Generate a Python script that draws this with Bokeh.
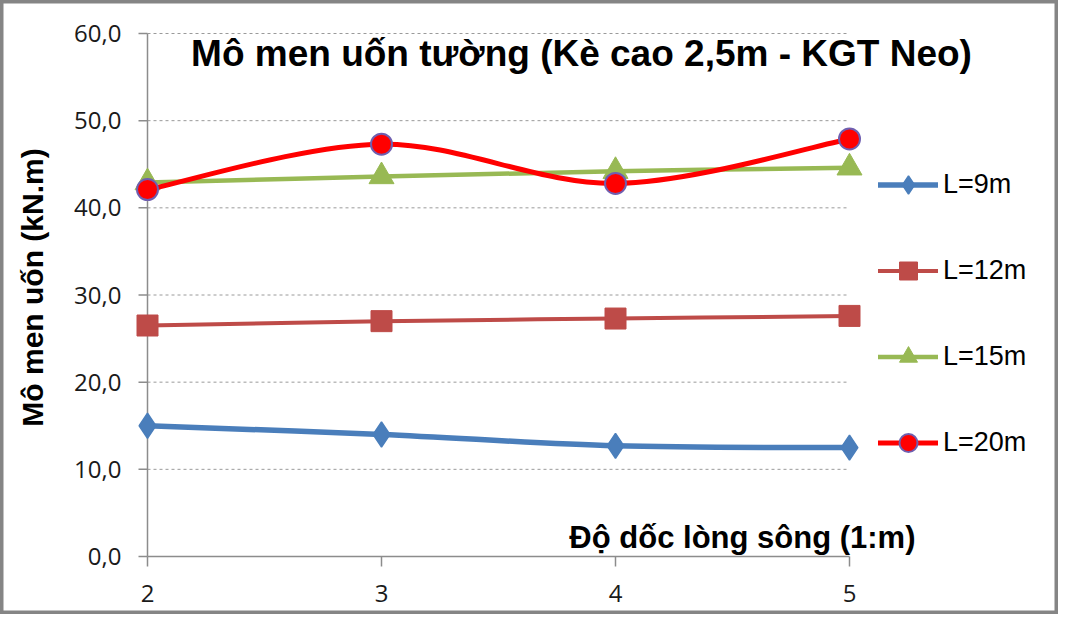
import math
from bokeh.plotting import figure
from bokeh.models import Range1d, Label, Legend, LegendItem, ColumnDataSource
from bokeh.core.properties import value
from bokeh.embed import file_html
from bokeh.resources import INLINE

# ---------------- data ----------------
slopes = [2, 3, 4, 5]
series_names = ["L=9m", "L=12m", "L=15m", "L=20m"]
L9 = [15.0, 14.0, 12.7, 12.5]
L12 = [26.5, 27.0, 27.3, 27.6]
L15 = [42.9, 43.6, 44.2, 44.6]
L20 = [42.1, 47.3, 42.8, 47.9]
y_ticks = [0, 10, 20, 30, 40, 50, 60]
y_tick_labels = ["0,0", "10,0", "20,0", "30,0", "40,0", "50,0", "60,0"]
x_ticks = [2, 3, 4, 5]
x_tick_labels = ["2", "3", "4", "5"]
title_text = "Mô men uốn tường (Kè cao 2,5m - KGT Neo)"
x_title = "Độ dốc lòng sông (1:m)"
y_title = "Mô men uốn (kN.m)"

# ---------------- layout (canvas px) ----------------
W, H = 1058, 614
AX_L, AX_R, AX_T, AX_B = 147, 849, 33, 556   # pixel positions of x=2, x=5, y=60, y=0
XMIN, XMAX = x_ticks[0], x_ticks[-1]
YMIN, YMAX = y_ticks[0], y_ticks[-1]
ppx = (AX_R - AX_L) / (XMAX - XMIN)
ppy = (AX_B - AX_T) / (YMAX - YMIN)

def px_x(c):
    return XMIN + (c - AX_L) / ppx

def px_y(c):
    return YMIN + (AX_B - c) / ppy

p = figure(width=W, height=H, output_backend="svg", toolbar_location=None,
           title=None, x_axis_type=None, y_axis_type=None,
           x_range=Range1d(px_x(0), px_x(W)), y_range=Range1d(px_y(H), px_y(0)),
           min_border=0, min_border_left=0, min_border_right=0,
           min_border_top=0, min_border_bottom=0)
p.outline_line_color = "#858585"
p.outline_line_width = 6
p.background_fill_color = "white"
p.border_fill_color = "white"
p.xgrid.visible = False
p.ygrid.visible = False

axis_col = "#8c8c8c"
# dashed gridlines
gv = y_ticks[1:]
p.segment(x0=[XMIN] * len(gv), y0=gv, x1=[XMAX] * len(gv), y1=gv,
          line_color="#9a9a9a", line_width=1, line_dash="3 3")
# axis lines
p.segment(x0=[XMIN, XMIN], y0=[YMIN, YMIN], x1=[XMIN, XMAX], y1=[YMAX, YMIN],
          line_color=axis_col, line_width=1.5)
# tick marks
p.segment(x0=[XMIN - 9 / ppx] * len(y_ticks), y0=y_ticks, x1=[XMIN] * len(y_ticks), y1=y_ticks,
          line_color=axis_col, line_width=1.5)
p.segment(x0=x_ticks, y0=[YMIN] * len(x_ticks), x1=x_ticks, y1=[YMIN - 10 / ppy] * len(x_ticks),
          line_color=axis_col, line_width=1.5)
# tick labels
p.text(x=[XMIN - 26 / ppx] * len(y_ticks), y=y_ticks, text=y_tick_labels,
       text_align="right", text_baseline="middle", text_font=value("Open Sans"),
       text_font_size="24px", text_color="#1a1a1a")
p.text(x=x_ticks, y=[px_y(593)] * len(x_ticks), text=x_tick_labels,
       text_align="center", text_baseline="middle", text_font=value("Open Sans"),
       text_font_size="24px", text_color="#1a1a1a")

def bezier_source(xs, ys):
    n = len(xs)
    d = dict(x0=[], y0=[], x1=[], y1=[], cx0=[], cy0=[], cx1=[], cy1=[])
    for i in range(n - 1):
        xp, yp = (xs[i - 1], ys[i - 1]) if i > 0 else (xs[i], ys[i])
        xn, yn = (xs[i + 2], ys[i + 2]) if i + 2 < n else (xs[i + 1], ys[i + 1])
        d["x0"].append(xs[i]); d["y0"].append(ys[i])
        d["x1"].append(xs[i + 1]); d["y1"].append(ys[i + 1])
        d["cx0"].append(xs[i] + (xs[i + 1] - xp) / 6)
        d["cy0"].append(ys[i] + (ys[i + 1] - yp) / 6)
        d["cx1"].append(xs[i + 1] - (xn - xs[i]) / 6)
        d["cy1"].append(ys[i + 1] - (yn - ys[i]) / 6)
    return ColumnDataSource(d)

styles = [
    dict(line="#4A7EBB", marker="diamond", size=25, fill="#4A7EBB", outline="#4A7EBB", lw=1.5, w=5.5),
    dict(line="#BE4B48", marker="square", size=21, fill="#BE4B48", outline="#BE4B48", lw=1, w=4),
    dict(line="#98B954", marker="triangle", size=25, fill="#98B954", outline="#98B954", lw=1, w=4.5),
    dict(line="#FF0000", marker="circle", size=21, fill="#FF0000", outline="#6F5FB0", lw=2, w=5),
]
all_series = [L9, L12, L15, L20]

items = []
for name, vals, st in zip(series_names, all_series, styles):
    br = p.bezier(x0="x0", y0="y0", x1="x1", y1="y1", cx0="cx0", cy0="cy0",
                  cx1="cx1", cy1="cy1", source=bezier_source(slopes, vals),
                  line_color=st["line"], line_width=st["w"], line_cap="round")
    sr = p.scatter(x=slopes, y=vals, marker=st["marker"], size=st["size"],
                   fill_color=st["fill"], line_color=st["outline"], line_width=st["lw"])
    items.append(LegendItem(label=name, renderers=[br, sr]))

legend = Legend(items=items, location=(878, H - 465),
                orientation="vertical", glyph_width=60, glyph_height=45,
                label_height=45, spacing=41, padding=0, margin=0,
                label_standoff=5, border_line_alpha=0, background_fill_alpha=0,
                label_text_font="Liberation Sans", label_text_font_size="27px",
                label_text_color="black")
p.add_layout(legend)

p.add_layout(Label(x=px_x(581), y=px_y(53), text=title_text,
                   text_font="Liberation Sans", text_font_style="bold",
                   text_font_size="37px", text_align="center",
                   text_baseline="alphabetic", text_color="black"))
p.add_layout(Label(x=px_x(915), y=px_y(537), text=x_title,
                   text_font="Liberation Sans", text_font_style="bold",
                   text_font_size="31px", text_align="right",
                   text_baseline="alphabetic", text_color="black"))
p.add_layout(Label(x=px_x(32), y=px_y(287), text=y_title, angle=math.pi / 2,
                   text_font="Liberation Sans", text_font_style="bold",
                   text_font_size="30px", text_align="center",
                   text_baseline="middle", text_color="black"))

open("out.html", "w").write(file_html(p, INLINE))
